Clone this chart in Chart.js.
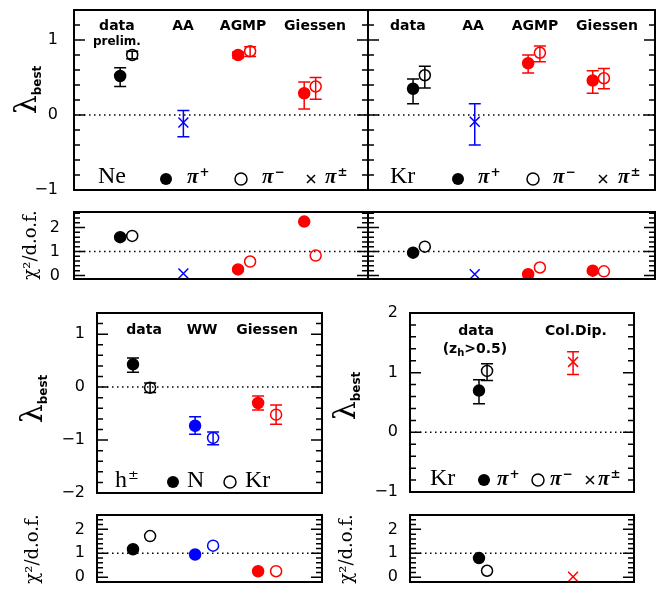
<!DOCTYPE html>
<html>
<head>
<meta charset="utf-8">
<script src="https://cdn.jsdelivr.net/npm/chart.js@4.4.0/dist/chart.umd.min.js"></script>
<style>
html, body { margin: 0; padding: 0; background: #fff; width: 657px; height: 589px; overflow: hidden; position: relative; }
canvas { position: absolute; }
</style>
</head>
<body>
<canvas id="neLam"></canvas>
<canvas id="krLam"></canvas>
<canvas id="neChi"></canvas>
<canvas id="krChi"></canvas>
<canvas id="hLam"></canvas>
<canvas id="hChi"></canvas>
<canvas id="cdLam"></canvas>
<canvas id="cdChi"></canvas>
<script>
// --- Данные: pions на Ne и Kr (модели data / AA / AGMP / Giessen)
const pionGroups = ['data', 'AA', 'AGMP', 'Giessen'];
const pionPipX = [1.57, 3.72, 5.58, 7.83];
const pionPimX = [1.98, 3.72, 5.99, 8.22];
const pionColors = ['#000000', '#0000ff', '#ff0000', '#ff0000'];

const neLamPip   = [0.52, null, 0.80, 0.29];
const neLamPipLo = [0.38, null, 0.76, 0.08];
const neLamPipHi = [0.63, null, 0.84, 0.44];
const neLamPim   = [0.80, null, 0.85, 0.38];
const neLamPimLo = [0.75, null, 0.78, 0.21];
const neLamPimHi = [0.85, null, 0.91, 0.50];
const neLamPm    = [null, -0.10, null, null];
const neLamPmLo  = [null, -0.29, null, null];
const neLamPmHi  = [null, 0.06, null, null];
const neChiPip = [1.60, null, 0.25, 2.25];
const neChiPim = [1.65, null, 0.58, 0.83];
const neChiPm  = [null, 0.08, null, null];

const krLamPip   = [0.35, null, 0.69, 0.46];
const krLamPipLo = [0.15, null, 0.56, 0.29];
const krLamPipHi = [0.48, null, 0.80, 0.59];
const krLamPim   = [0.53, null, 0.83, 0.49];
const krLamPimLo = [0.36, null, 0.71, 0.35];
const krLamPimHi = [0.65, null, 0.92, 0.62];
const krLamPm    = [null, -0.09, null, null];
const krLamPmLo  = [null, -0.40, null, null];
const krLamPmHi  = [null, 0.15, null, null];
const krChiPip = [0.95, null, 0.05, 0.20];
const krChiPim = [1.20, null, 0.33, 0.17];
const krChiPm  = [null, 0.05, null, null];

// --- h± : N и Kr (data / WW / Giessen)
const hGroups = ['data', 'WW', 'Giessen'];
const hNX = [1.60, 4.36, 7.16];
const hKrX = [2.36, 5.16, 7.96];
const hColors = ['#000000', '#0000ff', '#ff0000'];
const hLamN    = [0.43, -0.73, -0.30];
const hLamNLo  = [0.28, -0.89, -0.43];
const hLamNHi  = [0.55, -0.56, -0.17];
const hLamKr   = [-0.01, -0.96, -0.52];
const hLamKrLo = [-0.10, -1.09, -0.70];
const hLamKrHi = [0.08, -0.85, -0.34];
const hChiN  = [1.17, 0.95, 0.25];
const hChiKr = [1.72, 1.32, 0.25];

// --- Kr, z_h > 0.5 и Col.Dip.
const cdGroups = ['data', 'Col.Dip.'];
const cdPipX = [3.08, 7.28];
const cdPimX = [3.44, 7.28];
const cdColors = ['#000000', '#ff0000'];
const cdLamPip   = [0.70, null];
const cdLamPipLo = [0.48, null];
const cdLamPipHi = [0.88, null];
const cdLamPim   = [1.03, null];
const cdLamPimLo = [0.87, null];
const cdLamPimHi = [1.15, null];
const cdLamPm    = [null, 1.18];
const cdLamPmLo  = [null, 0.97];
const cdLamPmHi  = [null, 1.35];
const cdChiPip = [0.80, null];
const cdChiPim = [0.27, null];
const cdChiPm  = [null, 0.02];

const SANS = '"DejaVu Sans"';
const SERIF = '"Liberation Serif"';

function series(xs, ys, lo, hi, colors, style, filled) {
    const pts = [], c = [], l = [], h = [];
    ys.forEach((v, i) => {
        if (v == null) return;
        pts.push({ x: xs[i], y: v });
        c.push(colors[i]);
        l.push(lo ? lo[i] : null);
        h.push(hi ? hi[i] : null);
    });
    return {
        data: pts,
        pointStyle: style,
        pointRadius: style === 'crossRot' ? 7 : 5.5,
        pointBorderWidth: 1.5,
        pointBorderColor: c,
        pointBackgroundColor: filled ? c : 'rgba(0,0,0,0)',
        errLo: l,
        errHi: h,
        showLine: false
    };
}

function drawPi(ctx, sup, x, y) {
    ctx.font = 'bold italic 21px ' + SERIF;
    ctx.textAlign = 'left';
    ctx.textBaseline = 'alphabetic';
    ctx.fillText('π', x, y);
    const w = ctx.measureText('π').width;
    ctx.font = 'bold 12px ' + SANS;
    ctx.fillText(sup, x + w + 1, y - 7);
}

const panelPlugin = {
    id: 'panel',
    beforeDatasetsDraw(chart, args, o) {
        const { ctx, chartArea: a, scales: { x, y } } = chart;
        ctx.save();
        ctx.strokeStyle = '#000';
        ctx.lineWidth = 1.5;
        ctx.setLineDash([1.5, 3.5]);
        const yr = y.getPixelForValue(o.refLine);
        ctx.beginPath(); ctx.moveTo(a.left, yr); ctx.lineTo(a.right, yr); ctx.stroke();
        ctx.setLineDash([]);
        // error bars
        chart.data.datasets.forEach(ds => {
            ds.data.forEach((p, i) => {
                if (ds.errLo[i] == null) return;
                const px = x.getPixelForValue(p.x);
                const y1 = y.getPixelForValue(ds.errLo[i]);
                const y2 = y.getPixelForValue(ds.errHi[i]);
                ctx.strokeStyle = ds.pointBorderColor[i];
                ctx.lineWidth = 1.5;
                ctx.beginPath();
                ctx.moveTo(px, y1); ctx.lineTo(px, y2);
                ctx.moveTo(px - 6, y1); ctx.lineTo(px + 6, y1);
                ctx.moveTo(px - 6, y2); ctx.lineTo(px + 6, y2);
                ctx.stroke();
            });
        });
        ctx.restore();
    },
    afterDraw(chart, args, o) {
        const { ctx, chartArea: a, scales: { x, y } } = chart;
        ctx.save();
        // рамка
        ctx.strokeStyle = '#000';
        ctx.lineWidth = 2;
        ctx.strokeRect(a.left, a.top, a.right - a.left, a.bottom - a.top);
        // засечки
        ctx.lineWidth = 1.5;
        const n0 = Math.ceil(y.min * 5 - 1e-6), n1 = Math.floor(y.max * 5 + 1e-6);
        for (let n = n0; n <= n1; n++) {
            const py = y.getPixelForValue(n / 5);
            if (py < a.top + 1 || py > a.bottom - 1) continue;
            const len = n % 5 === 0 ? o.major : o.minor;
            ctx.beginPath();
            ctx.moveTo(a.left, py); ctx.lineTo(a.left + len, py);
            ctx.moveTo(a.right, py); ctx.lineTo(a.right - len, py);
            ctx.stroke();
        }
        ctx.fillStyle = '#000';
        // подписи делений
        if (o.tickPad) {
            ctx.font = '16px ' + SANS;
            ctx.textAlign = 'right';
            ctx.textBaseline = 'middle';
            y.ticks.forEach(t => {
                const v = t.value;
                ctx.fillText(v < 0 ? '−' + (-v) : String(v), a.left - o.tickPad, y.getPixelForValue(v));
            });
        }
        // подписи групп
        (o.texts || []).forEach(t => {
            ctx.font = t.font;
            ctx.textAlign = 'center';
            ctx.textBaseline = 'alphabetic';
            const px = x.getPixelForValue(t.x);
            if (t.sub) {
                const parts = t.sub;
                ctx.font = t.font;
                const w0 = ctx.measureText(parts[0]).width;
                const w2 = ctx.measureText(parts[2]).width;
                ctx.font = t.subFont;
                const w1 = ctx.measureText(parts[1]).width;
                let sx = px - (w0 + w1 + w2) / 2;
                ctx.textAlign = 'left';
                ctx.font = t.font; ctx.fillText(parts[0], sx, a.top + t.dy);
                ctx.font = t.subFont; ctx.fillText(parts[1], sx + w0, a.top + t.dy + 3);
                ctx.font = t.font; ctx.fillText(parts[2], sx + w0 + w1, a.top + t.dy);
            } else {
                ctx.fillText(t.t, px, a.top + t.dy);
            }
        });
        // легенда внизу
        (o.legend || []).forEach(it => {
            const lx = a.left + it.dx;
            const base = a.bottom - o.legendBase;
            const my = a.bottom - o.legendMark;
            if (it.type === 'text') {
                ctx.font = '24px ' + SERIF;
                ctx.textAlign = 'left';
                ctx.textBaseline = 'alphabetic';
                ctx.fillText(it.t, lx, base);
                if (it.sup) {
                    const w = ctx.measureText(it.t).width;
                    ctx.font = '13px ' + SANS;
                    ctx.fillText(it.sup, lx + w + 1, base - 8);
                }
            } else if (it.type === 'pi') {
                drawPi(ctx, it.sup, lx, base);
            } else if (it.type === 'dot') {
                ctx.beginPath();
                ctx.arc(lx, my, 6, 0, Math.PI * 2);
                ctx.lineWidth = 1.5;
                if (it.fill) ctx.fill(); else ctx.stroke();
            } else if (it.type === 'cross') {
                ctx.lineWidth = 1.5;
                ctx.beginPath();
                ctx.moveTo(lx - 4, my - 4); ctx.lineTo(lx + 4, my + 4);
                ctx.moveTo(lx + 4, my - 4); ctx.lineTo(lx - 4, my + 4);
                ctx.stroke();
            }
        });
        // заголовок оси Y
        if (o.title) {
            const t = o.title;
            ctx.translate(t.x, t.y);
            ctx.rotate(-Math.PI / 2);
            ctx.textAlign = 'left';
            ctx.textBaseline = 'alphabetic';
            if (t.kind === 'lambda') {
                ctx.font = '30px "DejaVu Serif"';
                const wl = ctx.measureText('λ').width;
                ctx.font = 'bold 12px ' + SANS;
                const wb = ctx.measureText('best').width;
                const s = -(wl + wb) / 2;
                ctx.font = '30px "DejaVu Serif"';
                ctx.fillText('λ', s, 0);
                ctx.font = 'bold 12px ' + SANS;
                ctx.fillText('best', s + wl, 5);
            } else {
                ctx.font = '18px "DejaVu Serif"';
                const w = ctx.measureText('χ²/d.o.f.').width;
                ctx.fillText('χ²/d.o.f.', -w / 2, 0);
            }
        }
        ctx.restore();
    }
};

function makePanel(id, box, cfg) {
    const cv = document.getElementById(id);
    cv.width = box.right + 6 - box.cl;
    cv.height = box.bottom - box.top + 24;
    cv.style.left = box.cl + 'px';
    cv.style.top = (box.top - 12) + 'px';
    const axisW = box.left - box.cl;
    const po = Object.assign({}, cfg.plugin);
    po.tickPad = cfg.showTicks ? cfg.tickPad : 0;
    if (po.title) po.title = { kind: po.title.kind, x: po.title.x - box.cl, y: po.title.y - (box.top - 12) };
    return new Chart(cv, {
        type: 'scatter',
        data: { datasets: cfg.datasets },
        options: {
            responsive: false,
            animation: false,
            devicePixelRatio: 1,
            layout: { autoPadding: false, padding: { top: 12, bottom: 12, left: 0, right: 6 } },
            plugins: { legend: { display: false }, tooltip: { enabled: false }, panel: po },
            scales: {
                x: { type: 'linear', min: 0, max: 10, display: false },
                y: {
                    min: cfg.min, max: cfg.max,
                    afterFit: s => { s.width = axisW; },
                    afterBuildTicks: s => { s.ticks = cfg.majors.map(v => ({ value: v })); },
                    ticks: { display: false },
                    grid: { display: false, drawTicks: false },
                    border: { display: false }
                }
            }
        },
        plugins: [panelPlugin]
    });
}

const groupFont = 'bold 14px ' + SANS;
const lamLegend = (name, d) => [
    { type: 'text', t: name, dx: d[0] },
    { type: 'dot', fill: true, dx: d[1] },
    { type: 'pi', sup: '+', dx: d[2] },
    { type: 'dot', fill: false, dx: d[3] },
    { type: 'pi', sup: '−', dx: d[4] },
    { type: 'cross', dx: d[5] },
    { type: 'pi', sup: '±', dx: d[6] }
];

// 1. Ne, λ
makePanel('neLam', { left: 74, top: 10, right: 368, bottom: 190, cl: 0 }, {
    min: -1, max: 1.4, majors: [-1, 0, 1], showTicks: true, tickPad: 16,
    datasets: [
        series(pionPipX, neLamPip, neLamPipLo, neLamPipHi, pionColors, 'circle', true),
        series(pionPimX, neLamPim, neLamPimLo, neLamPimHi, pionColors, 'circle', false),
        series(pionPipX, neLamPm, neLamPmLo, neLamPmHi, pionColors, 'crossRot', false)
    ],
    plugin: {
        refLine: 0, major: 11, minor: 6, legendBase: 7, legendMark: 11,
        texts: [
            { t: pionGroups[0], x: 1.46, dy: 20, font: groupFont },
            { t: 'prelim.', x: 1.46, dy: 35, font: 'bold 12px ' + SANS },
            { t: pionGroups[1], x: 3.71, dy: 20, font: groupFont },
            { t: pionGroups[2], x: 5.75, dy: 20, font: groupFont },
            { t: pionGroups[3], x: 8.2, dy: 20, font: groupFont }
        ],
        legend: lamLegend('Ne', [24, 92, 113, 167, 188, 237, 251]),
        title: { kind: 'lambda', x: 36, y: 90 }
    }
});

// 2. Kr, λ
makePanel('krLam', { left: 368, top: 10, right: 655, bottom: 190, cl: 362 }, {
    min: -1, max: 1.4, majors: [-1, 0, 1],
    datasets: [
        series(pionPipX, krLamPip, krLamPipLo, krLamPipHi, pionColors, 'circle', true),
        series(pionPimX, krLamPim, krLamPimLo, krLamPimHi, pionColors, 'circle', false),
        series(pionPipX, krLamPm, krLamPmLo, krLamPmHi, pionColors, 'crossRot', false)
    ],
    plugin: {
        refLine: 0, major: 11, minor: 6, legendBase: 7, legendMark: 11,
        texts: [
            { t: pionGroups[0], x: 1.39, dy: 20, font: groupFont },
            { t: pionGroups[1], x: 3.66, dy: 20, font: groupFont },
            { t: pionGroups[2], x: 5.82, dy: 20, font: groupFont },
            { t: pionGroups[3], x: 8.33, dy: 20, font: groupFont }
        ],
        legend: lamLegend('Kr', [22, 90, 110, 165, 185, 235, 250])
    }
});

// 3. Ne, χ²
makePanel('neChi', { left: 74, top: 212, right: 368, bottom: 279, cl: 0 }, {
    min: -0.15, max: 2.65, majors: [0, 1, 2], showTicks: true, tickPad: 14,
    datasets: [
        series(pionPipX, neChiPip, null, null, pionColors, 'circle', true),
        series(pionPimX, neChiPim, null, null, pionColors, 'circle', false),
        series(pionPipX, neChiPm, null, null, pionColors, 'crossRot', false)
    ],
    plugin: { refLine: 1, major: 11, minor: 6, title: { kind: 'chi', x: 36, y: 245 } }
});

// 4. Kr, χ²
makePanel('krChi', { left: 368, top: 212, right: 655, bottom: 279, cl: 362 }, {
    min: -0.15, max: 2.65, majors: [0, 1, 2],
    datasets: [
        series(pionPipX, krChiPip, null, null, pionColors, 'circle', true),
        series(pionPimX, krChiPim, null, null, pionColors, 'circle', false),
        series(pionPipX, krChiPm, null, null, pionColors, 'crossRot', false)
    ],
    plugin: { refLine: 1, major: 11, minor: 6 }
});

// 5. h±, λ
makePanel('hLam', { left: 97, top: 313, right: 322, bottom: 493, cl: 0 }, {
    min: -2, max: 1.4, majors: [-2, -1, 0, 1], showTicks: true, tickPad: 12,
    datasets: [
        series(hNX, hLamN, hLamNLo, hLamNHi, hColors, 'circle', true),
        series(hKrX, hLamKr, hLamKrLo, hLamKrHi, hColors, 'circle', false)
    ],
    plugin: {
        refLine: 0, major: 11, minor: 6, legendBase: 6, legendMark: 11,
        texts: [
            { t: hGroups[0], x: 2.09, dy: 21, font: groupFont },
            { t: hGroups[1], x: 4.67, dy: 21, font: groupFont },
            { t: hGroups[2], x: 7.56, dy: 21, font: groupFont }
        ],
        legend: [
            { type: 'text', t: 'h', sup: '±', dx: 18 },
            { type: 'dot', fill: true, dx: 76 },
            { type: 'text', t: 'N', dx: 90 },
            { type: 'dot', fill: false, dx: 133 },
            { type: 'text', t: 'Kr', dx: 148 }
        ],
        title: { kind: 'lambda', x: 42, y: 399 }
    }
});

// 6. h±, χ²
makePanel('hChi', { left: 97, top: 515, right: 322, bottom: 582, cl: 0 }, {
    min: -0.2, max: 2.6, majors: [0, 1, 2], showTicks: true, tickPad: 12,
    datasets: [
        series(hNX, hChiN, null, null, hColors, 'circle', true),
        series(hKrX, hChiKr, null, null, hColors, 'circle', false)
    ],
    plugin: { refLine: 1, major: 11, minor: 6, title: { kind: 'chi', x: 38, y: 549 } }
});

// 7. Kr z_h>0.5, λ
makePanel('cdLam', { left: 410, top: 313, right: 634, bottom: 492, cl: 330 }, {
    min: -1, max: 2, majors: [-1, 0, 1, 2], showTicks: true, tickPad: 12,
    datasets: [
        series(cdPipX, cdLamPip, cdLamPipLo, cdLamPipHi, cdColors, 'circle', true),
        series(cdPimX, cdLamPim, cdLamPimLo, cdLamPimHi, cdColors, 'circle', false),
        series(cdPipX, cdLamPm, cdLamPmLo, cdLamPmHi, cdColors, 'crossRot', false)
    ],
    plugin: {
        refLine: 0, major: 11, minor: 6, legendBase: 7, legendMark: 12,
        texts: [
            { t: cdGroups[0], x: 2.95, dy: 22, font: groupFont },
            { sub: ['(z', 'h', '>0.5)'], x: 2.9, dy: 40, font: groupFont, subFont: 'bold 10px ' + SANS },
            { t: cdGroups[1], x: 7.41, dy: 22, font: groupFont }
        ],
        legend: lamLegend('Kr', [20, 74, 87, 128, 140, 180, 188]),
        title: { kind: 'lambda', x: 355, y: 396 }
    }
});

// 8. Kr z_h>0.5, χ²
makePanel('cdChi', { left: 410, top: 515, right: 634, bottom: 582, cl: 330 }, {
    min: -0.2, max: 2.6, majors: [0, 1, 2], showTicks: true, tickPad: 12,
    datasets: [
        series(cdPipX, cdChiPip, null, null, cdColors, 'circle', true),
        series(cdPimX, cdChiPim, null, null, cdColors, 'circle', false),
        series(cdPipX, cdChiPm, null, null, cdColors, 'crossRot', false)
    ],
    plugin: { refLine: 1, major: 11, minor: 6, title: { kind: 'chi', x: 352, y: 549 } }
});
</script>
</body>
</html>
